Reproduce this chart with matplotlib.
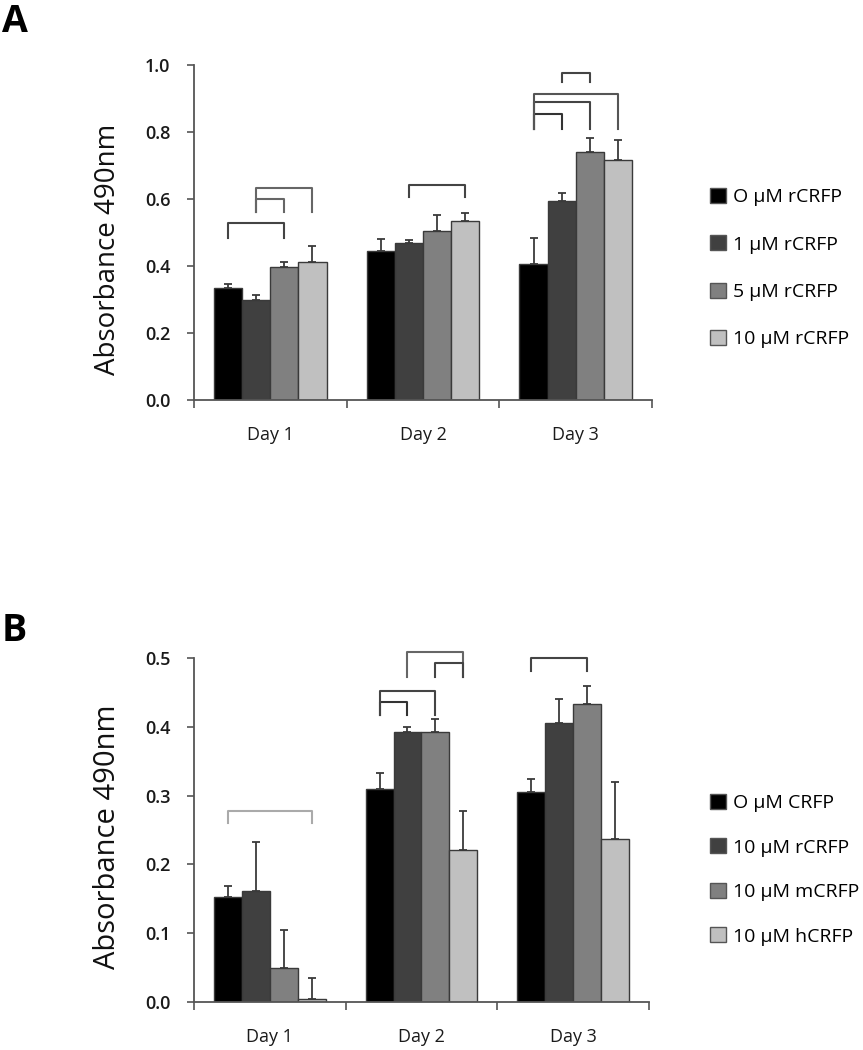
import matplotlib
matplotlib.use("Agg")
import matplotlib.pyplot as plt
from matplotlib.patches import Patch
import numpy as np

plt.rcParams['font.family'] = ['Open Sans', 'DejaVu Sans']

days = ["Day 1", "Day 2", "Day 3"]
colors = ["#000000", "#404040", "#808080", "#c0c0c0"]

# Panel A
labels_a = ["O µM rCRFP", "1 µM rCRFP", "5 µM rCRFP", "10 µM rCRFP"]
vals_a = [[0.334, 0.445, 0.406],
          [0.298, 0.469, 0.594],
          [0.397, 0.504, 0.740],
          [0.412, 0.534, 0.716]]
err_a = [[0.012, 0.035, 0.078],
         [0.015, 0.008, 0.023],
         [0.015, 0.048, 0.042],
         [0.048, 0.024, 0.060]]
# brackets: (day, bar1, bar2, y_top, y_leg)
brackets_a = [(0, 0, 2, 0.528, 0.484), (0, 1, 2, 0.600, 0.560), (0, 1, 3, 0.633, 0.560),
              (1, 1, 3, 0.642, 0.606),
              (2, 0, 1, 0.854, 0.810), (2, 0, 2, 0.889, 0.810), (2, 0, 3, 0.913, 0.810),
              (2, 1, 2, 0.976, 0.950)]

# Panel B
labels_b = ["O µM CRFP", "10 µM rCRFP", "10 µM mCRFP", "10 µM hCRFP"]
vals_b = [[0.153, 0.309, 0.305],
          [0.161, 0.392, 0.405],
          [0.049, 0.393, 0.433],
          [0.005, 0.221, 0.237]]
err_b = [[0.016, 0.024, 0.019],
         [0.071, 0.008, 0.035],
         [0.056, 0.018, 0.027],
         [0.030, 0.057, 0.083]]
brackets_b = [(0, 0, 3, 0.278, 0.260),
              (1, 0, 1, 0.436, 0.417), (1, 0, 2, 0.452, 0.417),
              (1, 1, 3, 0.509, 0.472), (1, 2, 3, 0.493, 0.472),
              (2, 0, 2, 0.500, 0.481)]

W = 0.184
offs = (np.arange(4) - 1.5) * W
axis_col = "#555555"
text_col = "#1a1a1a"


def draw(ax, vals, errs, brackets, ymax, ystep, labels, leg_y, leg_sp, bracket_cols,
         label_size, label_y):
    x = np.arange(len(days))
    for i in range(4):
        ax.bar(x + offs[i], vals[i], W, color=colors[i], edgecolor="#3a3a3a",
               linewidth=1.0, zorder=2)
        ax.errorbar(x + offs[i], vals[i], yerr=[np.zeros(3), errs[i]], fmt="none",
                    ecolor="#3a3a3a", elinewidth=1.3, capsize=3, capthick=1.3, zorder=3)
    for k, (d, b1, b2, yt, yl) in enumerate(brackets):
        x1 = d + offs[b1]
        x2 = d + offs[b2]
        c = bracket_cols[k]
        ax.plot([x1, x1, x2, x2], [yl, yt, yt, yl], color=c, lw=1.5,
                clip_on=False, zorder=4)
    ax.set_xlim(-0.5, 2.5)
    ax.set_ylim(0, ymax)
    ticks = np.arange(0, ymax + 1e-9, ystep)
    ax.set_yticks(ticks)
    ax.set_yticklabels([f"{v:.1f}" for v in ticks], fontsize=13, fontweight="semibold",
                       color=text_col)
    ax.set_xticks([-0.5, 0.5, 1.5, 2.5])
    ax.set_xticklabels([])
    ax.set_xticks(x, minor=True)
    ax.set_xticklabels(days, minor=True, fontsize=13, color=text_col)
    ax.tick_params(axis="x", which="minor", length=0, pad=19)
    ax.tick_params(axis="x", which="major", length=6, width=1.2, color=axis_col, direction="out")
    ax.tick_params(axis="y", length=5, width=1.2, color=axis_col, direction="out", pad=12)
    for s in ["top", "right"]:
        ax.spines[s].set_visible(False)
    for s in ["left", "bottom"]:
        ax.spines[s].set_color(axis_col)
        ax.spines[s].set_linewidth(1.3)
    ax.set_ylabel("Absorbance 490nm", fontsize=label_size, color="#111111")
    ax.yaxis.set_label_coords(-0.158, label_y)
    handles = [Patch(facecolor=colors[i], edgecolor="#555555", label=labels[i]) for i in range(4)]
    fig.legend(handles=handles, loc="upper left", bbox_to_anchor=(0.823, leg_y),
               frameon=False, fontsize=14, handlelength=0.8, handleheight=0.8,
               handletextpad=0.35, labelspacing=leg_sp, borderaxespad=0, borderpad=0)


fig = plt.figure(figsize=(8.63, 10.5), dpi=100)
axA = fig.add_axes([0.2248, 0.619, 0.5307, 0.319])
axB = fig.add_axes([0.2248, 0.0457, 0.527, 0.3276])

draw(axA, vals_a, err_a, brackets_a, 1.0, 0.2, labels_a, 1 - 188 / 1050, 1.5,
     ["#444444", "#666666", "#666666", "#444444", "#333333", "#444444", "#555555", "#444444"],
     20, 0.45)
draw(axB, vals_b, err_b, brackets_b, 0.5, 0.1, labels_b, 1 - 794 / 1050, 1.35,
     ["#aaaaaa", "#333333", "#444444", "#666666", "#444444", "#444444"],
     21, 0.48)

fig.text(0.002, 0.997, "A", fontsize=27, fontweight="bold", va="top")
fig.text(0.002, 1 - 612 / 1050, "B", fontsize=27, fontweight="bold", va="top")

fig.savefig("out.png", dpi=100)
